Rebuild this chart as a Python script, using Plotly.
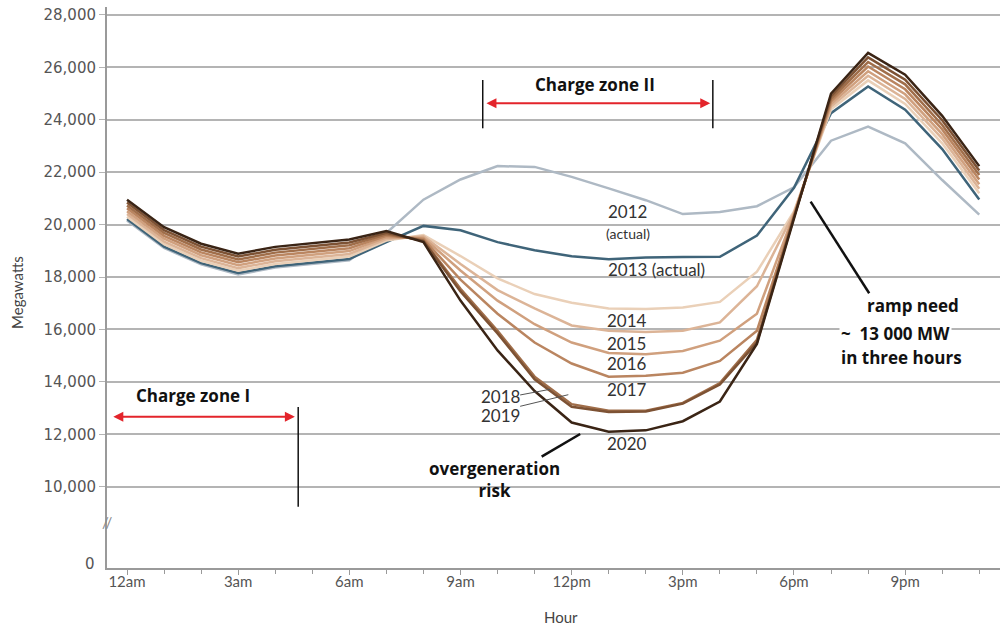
import plotly.graph_objects as go

hours = list(range(24))
tick_hours = [0, 3, 6, 9, 12, 15, 18, 21]
tick_labels = ["12am", "3am", "6am", "9am", "12pm", "3pm", "6pm", "9pm"]
y_ticks = [10000, 12000, 14000, 16000, 18000, 20000, 22000, 24000, 26000, 28000]
y_tick_labels = ["10,000", "12,000", "14,000", "16,000", "18,000", "20,000", "22,000", "24,000", "26,000", "28,000"]
zero_pos = 7060  # position of the "0" label below the axis break

y2012 = [20160, 19110, 18480, 18100, 18360, 18510, 18640, 19680, 20950, 21720, 22230, 22200,
         21820, 21380, 20930, 20400, 20480, 20700, 21420, 23200, 23740, 23100, 21700, 20380]
y2013 = [20210, 19160, 18530, 18150, 18410, 18560, 18690, 19330, 19950, 19780, 19330, 19020,
         18790, 18680, 18740, 18760, 18770, 19580, 21400, 24250, 25270, 24380, 22880, 20960]
y2014 = [20300, 19250, 18620, 18240, 18500, 18650, 18780, 19390, 19600, 18800, 17950, 17350,
         17020, 16800, 16780, 16840, 17050, 18200, 20500, 24400, 25500, 24600, 23100, 21200]
y2015 = [20400, 19350, 18720, 18340, 18600, 18750, 18880, 19450, 19550, 18500, 17500, 16800,
         16150, 15950, 15900, 15950, 16270, 17650, 20450, 24500, 25680, 24790, 23280, 21370]
y2016 = [20510, 19460, 18830, 18450, 18710, 18860, 18990, 19510, 19500, 18250, 17100, 16200,
         15500, 15100, 15050, 15180, 15570, 16600, 20400, 24600, 25850, 24970, 23450, 21540]
y2017 = [20620, 19570, 18940, 18560, 18820, 18970, 19100, 19570, 19450, 17900, 16600, 15500,
         14700, 14200, 14230, 14350, 14800, 15950, 20350, 24700, 26030, 25160, 23630, 21720]
y2018 = [20730, 19680, 19050, 18670, 18930, 19080, 19210, 19630, 19400, 17550, 15950, 14200,
         13150, 12900, 12900, 13200, 13950, 15600, 20300, 24800, 26200, 25350, 23800, 21890]
y2019 = [20840, 19790, 19160, 18780, 19040, 19190, 19320, 19690, 19370, 17450, 15850, 14100,
         13050, 12850, 12870, 13170, 13900, 15500, 20280, 24900, 26380, 25530, 23980, 22060]
y2020 = [20950, 19900, 19270, 18890, 19150, 19300, 19430, 19750, 19330, 17100, 15200, 13650,
         12450, 12100, 12150, 12500, 13250, 15450, 20250, 25000, 26550, 25720, 24150, 22230]

series = [
    ("2012", y2012, "#aeb9c4"),
    ("2013", y2013, "#3f6479"),
    ("2014", y2014, "#ead0b8"),
    ("2015", y2015, "#dcb497"),
    ("2016", y2016, "#d0a07e"),
    ("2017", y2017, "#ba8560"),
    ("2018", y2018, "#a06e4a"),
    ("2019", y2019, "#7d5234"),
    ("2020", y2020, "#3a2415"),
]

fig = go.Figure()
for name, vals, col in series:
    fig.add_trace(go.Scatter(x=hours, y=vals, mode="lines", name=name,
                             line=dict(color=col, width=2.5), showlegend=False))

lab_font = dict(family="Lato, sans-serif", size=17, color="#333333")
bold_font = dict(family="Open Sans, sans-serif", size=17, color="#111111")

def txt(x, y, s, font=lab_font, **kw):
    fig.add_annotation(x=x, y=y, xref="x", yref="y", text=s, showarrow=False, font=font, **kw)

# year labels
txt(13.52, 20518, "2012")
txt(13.52, 19679, "(actual)", font=dict(family="Lato, sans-serif", size=14, color="#333333"))
txt(14.29, 18268, "2013 (actual)")
txt(13.49, 16360, "2014")
txt(13.49, 15483, "2015")
txt(13.49, 14707, "2016")
txt(13.49, 13728, "2017")
txt(13.49, 11657, "2020")
txt(10.09, 13435, "2018")
txt(10.09, 12736, "2019")

# leader lines for 2018 / 2019
fig.add_shape(type="line", xref="x", yref="y", x0=10.61, y0=13500, x1=11.42, y1=13717,
              line=dict(color="#555555", width=1))
fig.add_shape(type="line", xref="x", yref="y", x0=10.61, y0=13068, x1=11.91, y1=13511,
              line=dict(color="#555555", width=1))

# Charge zone I
txt(1.78, 13481, "<b>Charge zone I</b>", font=bold_font)
fig.add_annotation(x=4.53, y=12672, ax=-0.41, ay=12672, xref="x", yref="y", axref="x", ayref="y",
                   text="", showarrow=True, arrowhead=2, arrowside="end+start", arrowsize=1,
                   arrowwidth=2, arrowcolor="#e3242b", standoff=0, startstandoff=0)
fig.add_shape(type="line", xref="x", yref="y", x0=4.62, y0=13042, x1=4.62, y1=9238,
              line=dict(color="#111111", width=1.5))

# Charge zone II
txt(12.63, 25325, "<b>Charge zone II</b>", font=bold_font)
fig.add_annotation(x=15.74, y=24627, ax=9.66, ay=24627, xref="x", yref="y", axref="x", ayref="y",
                   text="", showarrow=True, arrowhead=2, arrowside="end+start", arrowsize=1,
                   arrowwidth=2, arrowcolor="#e3242b", standoff=0, startstandoff=0)
for xv in (9.60, 15.81):
    fig.add_shape(type="line", xref="x", yref="y", x0=xv, y0=25515, x1=xv, y1=23673,
                  line=dict(color="#111111", width=1.5))

# overgeneration risk
txt(9.93, 10295, "<b>overgeneration<br>risk</b>", font=bold_font)
fig.add_shape(type="line", xref="x", yref="y", x0=11.19, y0=11147, x1=12.23, y1=12011,
              line=dict(color="#111111", width=2.5))

# ramp need
txt(21.2, 16913, "<b>ramp need</b>", font=bold_font)
txt(20.73, 15864, "<b>~&nbsp;&nbsp;13 000 MW</b>", font=bold_font, bgcolor="white")
txt(20.89, 14911, "<b>in three hours</b>", font=bold_font)
fig.add_shape(type="line", xref="x", yref="y", x0=18.45, y0=20873, x1=20.03, y1=17379,
              line=dict(color="#111111", width=2.5))

# zero label and axis break mark
fig.add_annotation(x=0, y=zero_pos, xref="paper", yref="y", text="0", showarrow=False,
                   xanchor="right", xshift=-10,
                   font=dict(family="DejaVu Sans, sans-serif", size=15, color="#555555"))
fig.add_annotation(x=0, y=8650, xref="paper", yref="y", text="//", showarrow=False,
                   xanchor="center", font=dict(family="Lato, sans-serif", size=15, color="#8a8a8a"))

# axis titles
fig.add_annotation(x=-0.1008, y=0.492, xref="paper", yref="paper", text="Megawatts", showarrow=False,
                   xanchor="center", yanchor="middle", textangle=-90,
                   font=dict(family="Lato, sans-serif", size=15, color="#444444"))
fig.add_annotation(x=0.508, y=-0.0873, xref="paper", yref="paper", text="Hour", showarrow=False,
                   xanchor="center", yanchor="middle",
                   font=dict(family="Lato, sans-serif", size=15, color="#444444"))

fig.update_xaxes(range=[-0.54, 23.56], tickvals=tick_hours, ticktext=tick_labels,
                 showgrid=False, showline=True, linecolor="#9a9a9a", linewidth=2,
                 ticks="outside", ticklen=5, tickcolor="#9a9a9a", ticklabelstandoff=-6,
                 minor=dict(dtick=1, ticks="outside", ticklen=4, tickcolor="#9a9a9a"),
                 tickfont=dict(family="Lato, sans-serif", size=15, color="#555555"), zeroline=False)
fig.update_yaxes(range=[6900, 28300], tickvals=y_ticks, ticktext=y_tick_labels,
                 showgrid=True, gridcolor="#b4b4b4", gridwidth=1.5,
                 showline=True, linecolor="#9a9a9a", linewidth=2,
                 ticks="outside", ticklen=6, tickcolor="#b4b4b4",
                 tickfont=dict(family="DejaVu Sans, sans-serif", size=15, color="#555555"), zeroline=False)

fig.update_layout(width=1000, height=628, margin=dict(l=107, r=0, t=7, b=60),
                  plot_bgcolor="white", paper_bgcolor="white", showlegend=False)

fig.write_html("out.html", config={"displayModeBar": False},
               post_script="document.body.style.margin='0';")
